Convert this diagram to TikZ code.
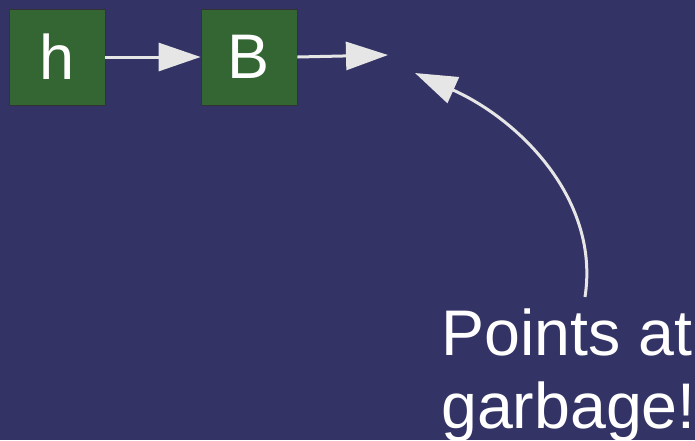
\documentclass[tikz,border=0pt]{standalone}
\usepackage{fontspec}
\setmainfont{Liberation Sans}
\usetikzlibrary{arrows.meta}
\definecolor{bgblue}{HTML}{333366}
\definecolor{boxgreen}{HTML}{336633}
\definecolor{arrowgray}{HTML}{E6E6E6}
\tikzset{
  listbox/.style={draw=black!80, line width=0.8pt, fill=boxgreen, minimum width=96pt, minimum height=96pt, inner sep=0pt, text=white, font=\fontsize{63}{63}\selectfont},
  ptr/.style={draw=arrowgray, line width=3pt, -{Triangle[length=42pt,width=28pt]}},
}
\begin{document}
\begin{tikzpicture}[x=1pt,y=-1pt]
\fill[bgblue] (0,0) rectangle (695,440);
\useasboundingbox (0,0) rectangle (695,440);
\node[listbox] (h) at (57,57) {h};
\node[listbox] (B) at (249,57) {B};
\coordinate (garbage) at (388,55);
\coordinate (tip) at (415,73);
\node[anchor=base west, inner sep=0pt, text=white, align=left, font=\fontsize{64.5}{73}\selectfont] (label) at (441,428) {Points at\\garbage!};
\coordinate (start) at (585,297);
\draw[ptr] (h.east) -- (B.west);
\draw[ptr] (B.east) -- (garbage);
\draw[ptr] (start) .. controls (600,200) and (520,120) .. (tip);
\end{tikzpicture}
\end{document}
